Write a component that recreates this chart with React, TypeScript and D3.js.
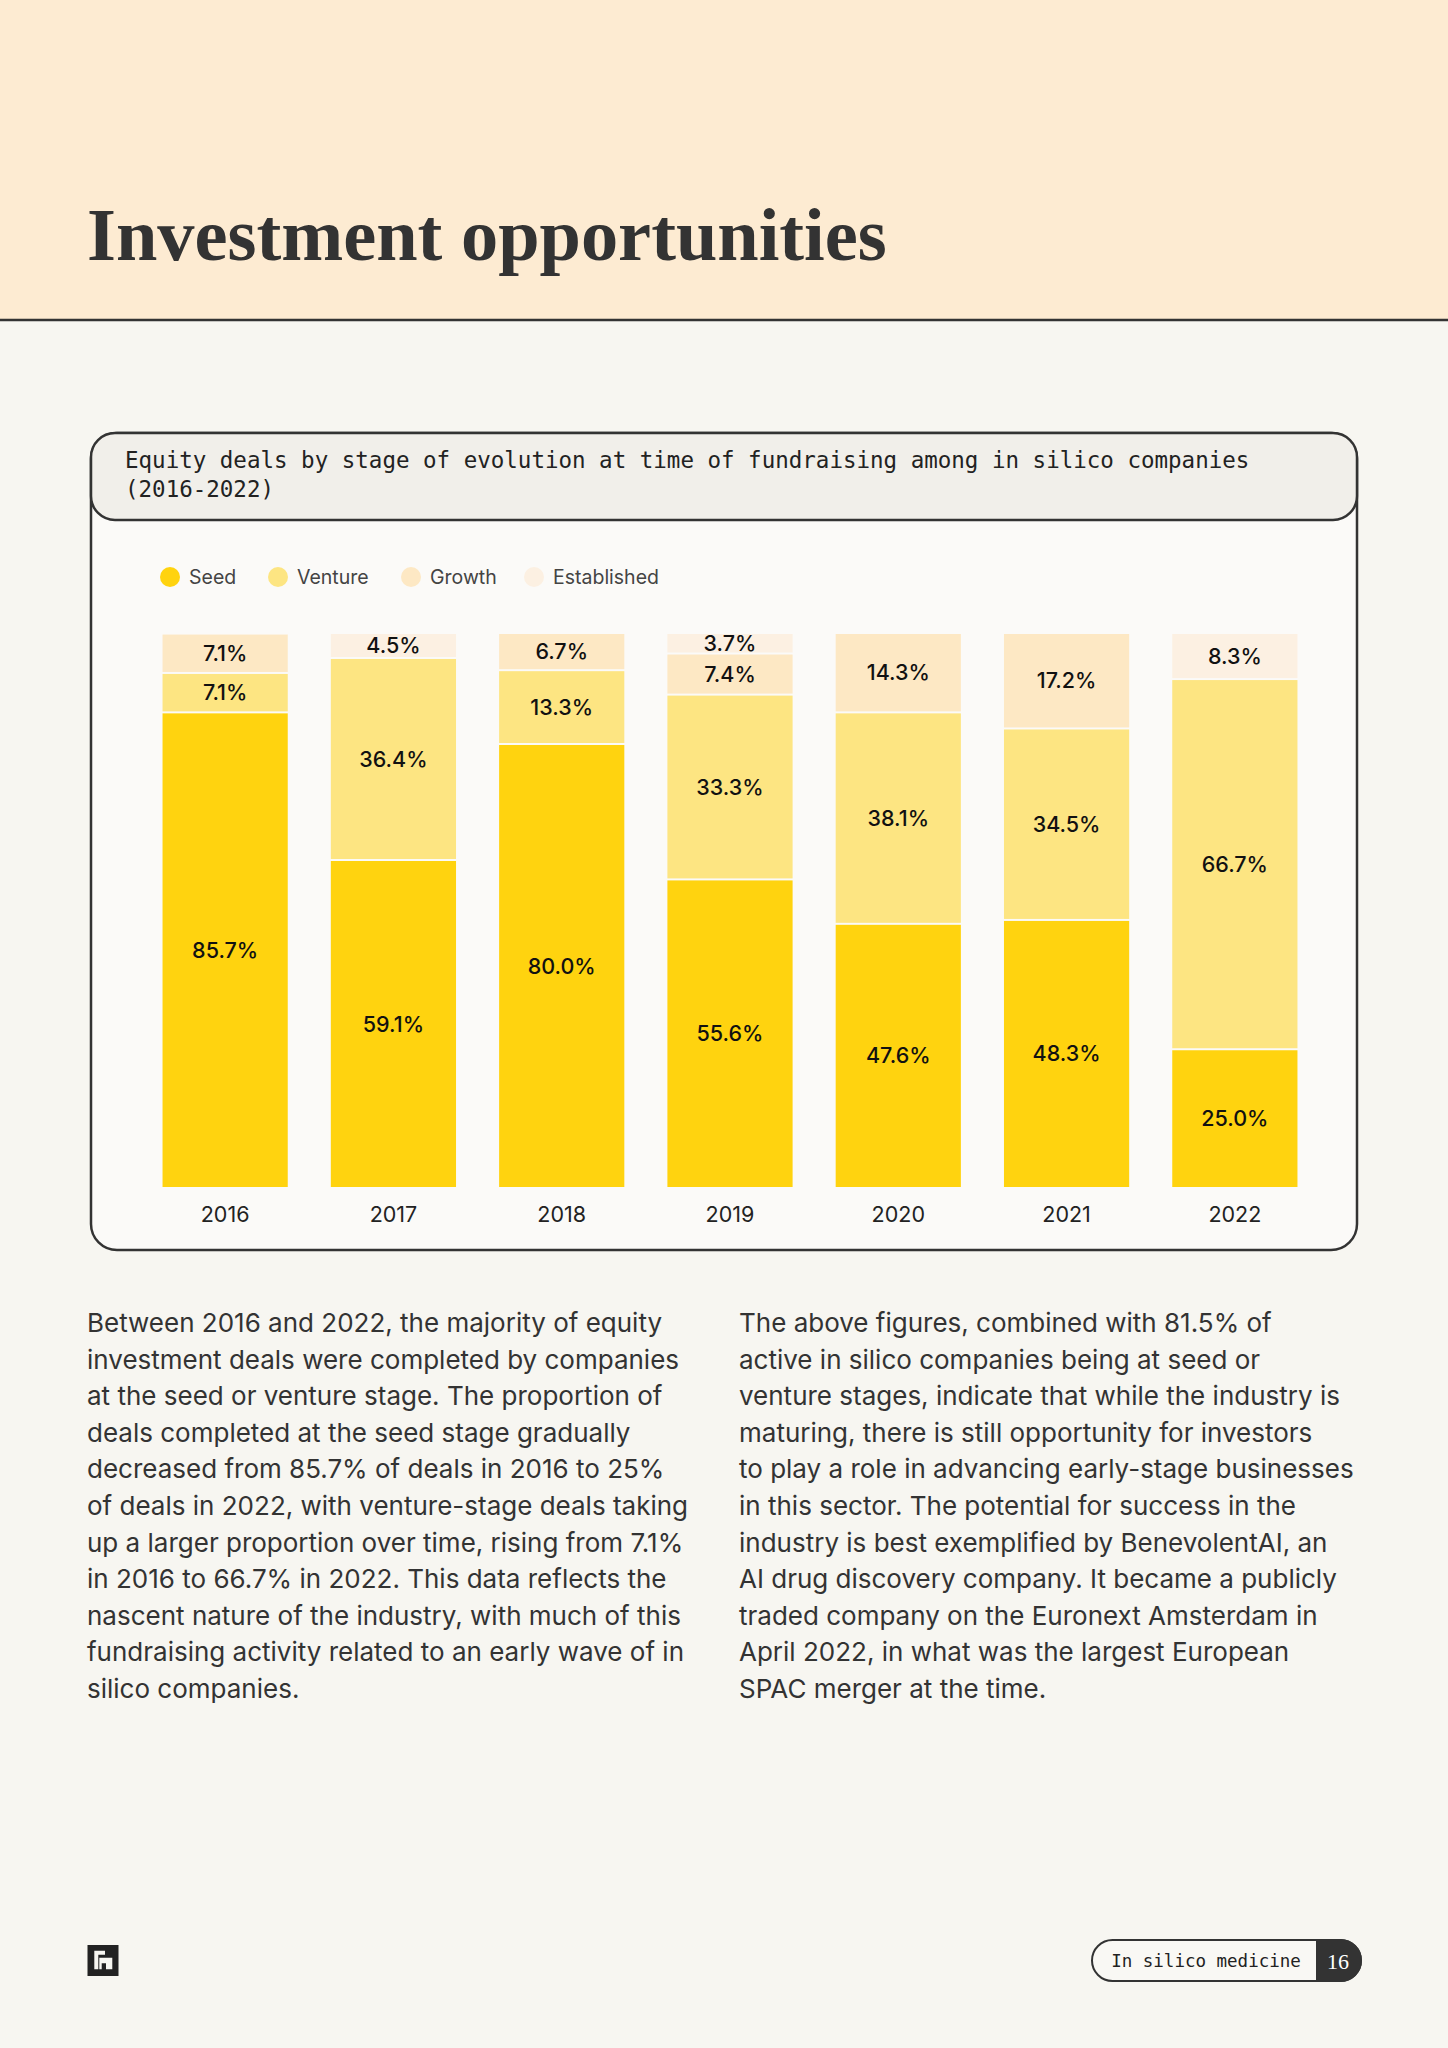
import React from "react";
import * as d3 from "d3";

const years = ["2016", "2017", "2018", "2019", "2020", "2021", "2022"];
const stages = ["Seed", "Venture", "Growth", "Established"];
const seed = [85.7, 59.1, 80.0, 55.6, 47.6, 48.3, 25.0];
const venture = [7.1, 36.4, 13.3, 33.3, 38.1, 34.5, 66.7];
const growth = [7.1, 0, 6.7, 7.4, 14.3, 17.2, 0];
const established = [0, 4.5, 0, 3.7, 0, 0, 8.3];
const stageColors = ["#FFD30F", "#FDE582", "#FDE8C4", "#FCF0E2"];

const leftText = [
  "Between 2016 and 2022, the majority of equity",
  "investment deals were completed by companies",
  "at the seed or venture stage. The proportion of",
  "deals completed at the seed stage gradually",
  "decreased from 85.7% of deals in 2016 to 25%",
  "of deals in 2022, with venture-stage deals taking",
  "up a larger proportion over time, rising from 7.1%",
  "in 2016 to 66.7% in 2022. This data reflects the",
  "nascent nature of the industry, with much of this",
  "fundraising activity related to an early wave of in",
  "silico companies.",
];
const rightText = [
  "The above figures, combined with 81.5% of",
  "active in silico companies being at seed or",
  "venture stages, indicate that while the industry is",
  "maturing, there is still opportunity for investors",
  "to play a role in advancing early-stage businesses",
  "in this sector. The potential for success in the",
  "industry is best exemplified by BenevolentAI, an",
  "AI drug discovery company. It became a publicly",
  "traded company on the Euronext Amsterdam in",
  "April 2022, in what was the largest European",
  "SPAC merger at the time.",
];

export default function App() {
  const W = 1448;
  const H = 2048;
  const series = [seed, venture, growth, established];
  const rows = years.map((y, i) => ({
    year: y,
    Seed: seed[i],
    Venture: venture[i],
    Growth: growth[i],
    Established: established[i],
  }));
  const stacked = d3.stack<any>().keys(stages)(rows);

  const x = d3
    .scaleBand<string>()
    .domain(years)
    .range([141, 1319])
    .paddingInner(0.256)
    .paddingOuter(0.128);
  const y = d3.scaleLinear().domain([0, 100]).range([1188, 633]);

  const sans = "Inter, 'Noto Sans', sans-serif";
  const mono = "'DejaVu Sans Mono', 'Liberation Mono', monospace";

  const legendX = [170, 278, 411, 534];

  return (
    <svg
      width={W}
      height={H}
      style={{ position: "absolute", left: 0, top: 0, display: "block" }}
      xmlns="http://www.w3.org/2000/svg"
    >
      <rect x={0} y={0} width={W} height={H} fill="#F7F6F1" />
      {/* header band */}
      <rect x={0} y={0} width={W} height={320} fill="#FDEBD2" />
      <line x1={0} x2={W} y1={320} y2={320} stroke="#333" strokeWidth={2.5} />
      <text
        x={87}
        y={260}
        fontFamily="'Liberation Serif', 'DejaVu Serif', serif"
        fontWeight={700}
        fontSize={74.4}
        fill="#333"
      >
        Investment opportunities
      </text>

      {/* chart card */}
      <rect x={91} y={433} width={1266} height={817} rx={26} fill="#FBFAF8" stroke="#333" strokeWidth={2.5} />
      <rect x={91} y={433} width={1266} height={87} rx={24} fill="#F1EFEA" stroke="#333" strokeWidth={2.5} />
      <text x={125} y={468} fontFamily={mono} fontSize={22.5} fill="#222">
        Equity deals by stage of evolution at time of fundraising among in silico companies
      </text>
      <text x={125} y={497} fontFamily={mono} fontSize={22.5} fill="#222">
        (2016-2022)
      </text>

      {/* legend */}
      {stages.map((s, i) => (
        <g key={s}>
          <circle cx={legendX[i]} cy={577} r={10} fill={stageColors[i]} />
          <text x={legendX[i] + 19} y={577} dy="0.35em" fontFamily={sans} fontSize={19.5} fill="#444">
            {s}
          </text>
        </g>
      ))}

      {/* bars */}
      {stacked.map((layer, li) => (
        <g key={layer.key}>
          {layer.map((d, i) => {
            const v = series[li][i];
            if (!v) return null;
            const top = y(d[1]);
            const bot = y(d[0]);
            const x0 = x(years[i])!;
            return (
              <g key={years[i]}>
                <rect
                  x={x0}
                  y={top + 1}
                  width={x.bandwidth()}
                  height={Math.max(0, bot - top - 2)}
                  fill={stageColors[li]}
                />
                <text
                  x={x0 + x.bandwidth() / 2}
                  y={(top + bot) / 2}
                  dy="0.35em"
                  textAnchor="middle"
                  fontFamily={sans}
                  fontWeight={500}
                  fontSize={21.5}
                  fill="#111"
                >
                  {v.toFixed(1)}%
                </text>
              </g>
            );
          })}
        </g>
      ))}

      {/* year labels */}
      {years.map((yr) => (
        <text
          key={yr}
          x={x(yr)! + x.bandwidth() / 2}
          y={1214}
          dy="0.35em"
          textAnchor="middle"
          fontFamily={sans}
          fontSize={21.5}
          fill="#222"
        >
          {yr}
        </text>
      ))}

      {/* body text */}
      {leftText.map((t, i) => (
        <text key={"l" + i} x={87} y={1332 + i * 36.6} fontFamily={sans} fontSize={26} fill="#333">
          {t}
        </text>
      ))}
      {rightText.map((t, i) => (
        <text key={"r" + i} x={739} y={1332 + i * 36.6} fontFamily={sans} fontSize={26} fill="#333">
          {t}
        </text>
      ))}

      {/* footer logo */}
      <rect x={87.5} y={1945} width={31} height={31} fill="#222" />
      <path
        d="M94.3,1950.7 H105 V1954.7 H98.3 V1969.3 H94.3 Z M99.3,1957.7 H112.3 V1969.3 H106 V1963.3 H101.7 V1969.3 H99.3 Z"
        fill="#F7F6F1"
      />

      {/* footer pill */}
      <rect x={1092} y={1940} width={269} height={41} rx={20.5} fill="#F9F8F4" stroke="#333" strokeWidth={2} />
      <path d="M1316,1939 H1340.5 A21.5,21.5 0 0 1 1340.5,1982 H1316 Z" fill="#333" />
      <text x={1206} y={1961} dy="0.35em" textAnchor="middle" fontFamily={mono} fontSize={17.5} fill="#222">
        In silico medicine
      </text>
      <text x={1338} y={1961} dy="0.35em" textAnchor="middle" fontFamily="'Liberation Serif', serif" fontSize={22} fill="#fff">
        16
      </text>
    </svg>
  );
}
